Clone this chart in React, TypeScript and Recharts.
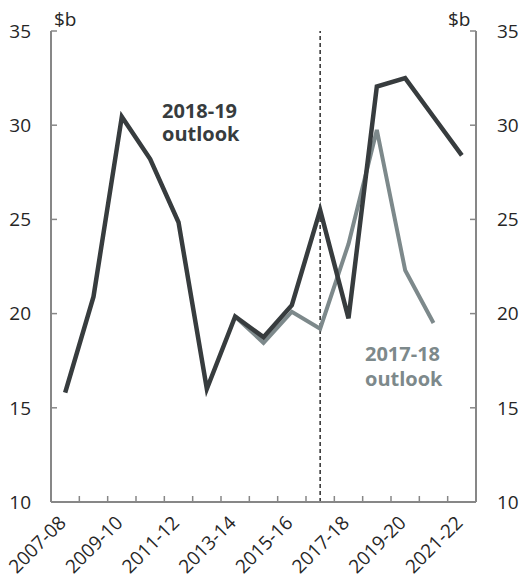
import React from 'react'
import {
  ComposedChart,
  Line,
  XAxis,
  YAxis,
  ReferenceLine
} from 'recharts'

const years = [
  '2007-08', '2008-09', '2009-10', '2010-11', '2011-12',
  '2012-13', '2013-14', '2014-15', '2015-16', '2016-17',
  '2017-18', '2018-19', '2019-20', '2020-21', '2021-22'
]

// 2018-19 Budget outlook, $b
const outlook1819 = [
  15.8, 20.9, 30.45, 28.2, 24.85, 16.0, 19.85, 18.75, 20.45, 25.5,
  19.75, 32.05, 32.5, 30.45, 28.4
]

// 2017-18 Budget outlook, $b
const outlook1718 = [
  null, null, null, null, null, null, 19.85, 18.45, 20.1, 19.2,
  23.7, 29.75, 22.3, 19.5, null
]

const yTicks = [10, 15, 20, 25, 30, 35]
const budgetYear = '2016-17'

const FONT = '"Open Sans", sans-serif'
const AXIS = '#878787'
const DARK = '#373c3e'
const GREY = '#7d898b'
const TEXT = '#262626'

const data = years.map((year, i) => ({
  year,
  o1819: outlook1819[i],
  o1718: outlook1718[i]
}))

// label at every other year, small tick between every pair of years
const renderXTick = (props: any) => {
  const { x, y, payload, index } = props
  const half = payload?.offset || 14.17
  return (
    <g key={`xt-${index}`}>
      {index > 0 && (
        <line x1={x - half} x2={x - half} y1={y} y2={y - 6} stroke={AXIS} strokeWidth={1.5} />
      )}
      {index % 2 === 0 && (
        <g transform={`translate(${x + 2}, ${y + 22})`}>
          <text
            x={0}
            y={0}
            textAnchor="end"
            transform="rotate(-45)"
            fontSize={19}
            fontFamily={FONT}
            fill={TEXT}
          >
            {payload.value}
          </text>
        </g>
      )}
    </g>
  )
}

const note = (color: string, left: number, top: number): React.CSSProperties => ({
  position: 'absolute',
  left,
  top,
  fontFamily: FONT,
  fontWeight: 700,
  fontSize: 20,
  lineHeight: '22px',
  color
})

const unit = (left: number): React.CSSProperties => ({
  position: 'absolute',
  left,
  top: 6,
  fontFamily: FONT,
  fontSize: 19,
  color: TEXT
})

export default function App() {
  const tickStyle = { fontSize: 19, fill: TEXT, fontFamily: FONT }
  return (
    <div
      style={{
        position: 'absolute',
        left: 0,
        top: 0,
        width: 519,
        height: 586,
        background: '#fff'
      }}
    >
      <ComposedChart
        width={519}
        height={586}
        data={data}
        margin={{ top: 31, right: 0, bottom: 0, left: 0 }}
      >
        <XAxis
          dataKey="year"
          scale="band"
          height={84}
          interval={0}
          tick={renderXTick}
          tickLine={false}
          tickSize={0}
          tickMargin={0}
          axisLine={{ stroke: AXIS, strokeWidth: 2 }}
        />
        <YAxis
          yAxisId="left"
          orientation="left"
          width={51}
          domain={[10, 35]}
          ticks={yTicks}
          allowDataOverflow
          tickSize={-6}
          tickMargin={26}
          tick={tickStyle}
          tickLine={{ stroke: AXIS, strokeWidth: 1.5 }}
          axisLine={{ stroke: AXIS, strokeWidth: 2 }}
        />
        <YAxis
          yAxisId="right"
          orientation="right"
          width={43}
          domain={[10, 35]}
          ticks={yTicks}
          allowDataOverflow
          tickSize={-6}
          tickMargin={27}
          tick={tickStyle}
          tickLine={{ stroke: AXIS, strokeWidth: 1.5 }}
          axisLine={{ stroke: AXIS, strokeWidth: 2 }}
        />
        <ReferenceLine
          yAxisId="left"
          x={budgetYear}
          stroke="#3a3a3a"
          strokeWidth={1.6}
          strokeDasharray="4 3"
        />
        <Line
          yAxisId="left"
          dataKey="o1718"
          stroke={GREY}
          strokeWidth={4}
          dot={false}
          activeDot={false}
          isAnimationActive={false}
        />
        <Line
          yAxisId="left"
          dataKey="o1819"
          stroke={DARK}
          strokeWidth={4.5}
          dot={false}
          activeDot={false}
          isAnimationActive={false}
        />
      </ComposedChart>
      <div style={unit(54)}>$b</div>
      <div style={unit(448)}>$b</div>
      <div style={note(DARK, 162, 100)}>2018-19</div>
      <div style={note(DARK, 162, 123)}>outlook</div>
      <div style={note(GREY, 365, 343)}>2017-18</div>
      <div style={note(GREY, 365, 368)}>outlook</div>
    </div>
  )
}
